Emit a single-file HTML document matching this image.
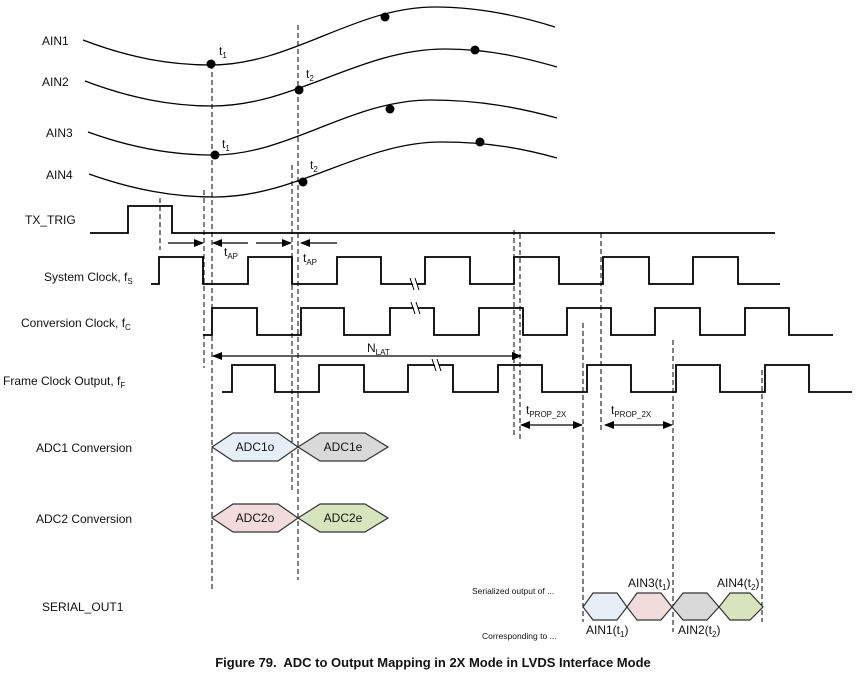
<!DOCTYPE html>
<html><head><meta charset="utf-8"><style>
html,body{margin:0;padding:0;background:#fff;}
svg{display:block;}
text{font-family:"Liberation Sans",Arial,sans-serif;fill:#111;}
</style></head><body>
<svg width="865" height="680" viewBox="0 0 865 680" xmlns="http://www.w3.org/2000/svg">
<defs>
<marker id="ar" markerWidth="10" markerHeight="8" refX="9" refY="4" orient="auto" markerUnits="userSpaceOnUse">
<path d="M0,0 L10,4 L0,8 z" fill="#000"/></marker>
</defs>
<g fill="none" stroke="#000" stroke-width="1.3">
<path d="M83,40 C130,58 170,65 211,65 C292,65 354,7 435,7 C480,7 520,16 555,27"/>
<path d="M85,81 C130,98 170,106 212,106 C295,106 360,49 445,49 C490,49 525,58 557,67"/>
<path d="M88,132 C132,148 172,155 213,155 C290,155 350,100 431,100 C480,100 520,108 557,118"/>
<path d="M89,174 C134,190 174,197 215,197 C297,197 362,142 441,142 C490,142 525,149 557,158"/>
</g>
<g fill="#000">
<circle cx="211" cy="64" r="4.5"/><circle cx="385" cy="17" r="4.5"/>
<circle cx="299" cy="90" r="4.5"/><circle cx="475" cy="50" r="4.5"/>
<circle cx="215" cy="155" r="4.5"/><circle cx="390" cy="109" r="4.5"/>
<circle cx="303" cy="182" r="4.5"/><circle cx="480" cy="142" r="4.5"/>
</g>
<g font-size="12">
<text x="42" y="45">AIN1</text><text x="42" y="86">AIN2</text>
<text x="46" y="137">AIN3</text><text x="46" y="179">AIN4</text>
<text x="25" y="224">TX_TRIG</text>
<text x="44" y="281">System Clock, f<tspan font-size="8" dy="3">S</tspan></text>
<text x="21" y="327">Conversion Clock, f<tspan font-size="8" dy="3">C</tspan></text>
<text x="3" y="385">Frame Clock Output, f<tspan font-size="8" dy="3">F</tspan></text>
<text x="36" y="452">ADC1 Conversion</text>
<text x="36" y="523">ADC2 Conversion</text>
<text x="42" y="611">SERIAL_OUT1</text>
<text x="219" y="55">t<tspan font-size="8" dy="3">1</tspan></text>
<text x="306" y="78">t<tspan font-size="8" dy="3">2</tspan></text>
<text x="222" y="148">t<tspan font-size="8" dy="3">1</tspan></text>
<text x="310" y="169">t<tspan font-size="8" dy="3">2</tspan></text>
<text x="224" y="256">t<tspan font-size="8" dy="3">AP</tspan></text>
<text x="303" y="262">t<tspan font-size="8" dy="3">AP</tspan></text>
<text x="367" y="352">N<tspan font-size="8" dy="3">LAT</tspan></text>
<text x="526" y="414">t<tspan font-size="8" dy="3">PROP_2X</tspan></text>
<text x="611" y="414">t<tspan font-size="8" dy="3">PROP_2X</tspan></text>
<text x="628" y="587">AIN3(t<tspan font-size="8" dy="3">1</tspan><tspan dy="-3">)</tspan></text>
<text x="717" y="587">AIN4(t<tspan font-size="8" dy="3">2</tspan><tspan dy="-3">)</tspan></text>
<text x="586" y="634">AIN1(t<tspan font-size="8" dy="3">1</tspan><tspan dy="-3">)</tspan></text>
<text x="678" y="634">AIN2(t<tspan font-size="8" dy="3">2</tspan><tspan dy="-3">)</tspan></text>
</g>
<text x="472" y="594" font-size="8.5">Serialized output of ...</text>
<text x="482" y="639" font-size="8.5">Corresponding to ...</text>
<!-- dashed -->
<g stroke="#000" stroke-width="1" stroke-dasharray="5,3" fill="none">
<line x1="212" y1="64" x2="212" y2="590"/>
<line x1="298" y1="25" x2="298" y2="580"/>
<line x1="160" y1="198" x2="160" y2="250"/>
<line x1="204" y1="190" x2="204" y2="368"/>
<line x1="292" y1="165" x2="292" y2="492"/>
<line x1="514" y1="230" x2="514" y2="437"/>
<line x1="520" y1="234" x2="520" y2="441"/>
<line x1="601" y1="233" x2="601" y2="433"/>
<line x1="583" y1="323" x2="583" y2="622"/>
<line x1="673" y1="340" x2="673" y2="632"/>
<line x1="762" y1="370" x2="762" y2="622"/>
</g>
<!-- waveforms -->
<g fill="none" stroke="#000" stroke-width="1.8">
<path d="M90,233 H128 V206 H172 V233 H775"/>
<path d="M151,284 H159 V257 H203 V284 H248 V257 H292 V284 H337 V257 H381 V284 H425 V257 H470 V284 H514 V257 H559 V284 H603 V257 H649 V284 H693 V257 H738 V284 H780"/>
<path d="M203,335 H212 V308 H257 V335 H301 V308 H344 V335 H390 V308 H434 V335 H479 V308 H523 V335 H567 V308 H611 V335 H655 V308 H700 V335 H745 V308 H789 V335 H833"/>
<path d="M222,392 H232 V365 H275 V392 H319 V365 H364 V392 H408 V365 H453 V392 H498 V365 H542 V392 H587 V365 H631 V392 H676 V365 H720 V392 H765 V365 H809 V392 H852"/>
</g>
<g stroke="#fff" stroke-width="4"><line x1="412" y1="278" x2="418" y2="290"/><line x1="413" y1="302" x2="419" y2="314"/><line x1="434" y1="359" x2="440" y2="371"/></g>
<g stroke="#000" stroke-width="1"><line x1="410" y1="278" x2="414" y2="290"/><line x1="415" y1="278" x2="419" y2="290"/>
<line x1="411" y1="302" x2="415" y2="314"/><line x1="416" y1="302" x2="420" y2="314"/>
<line x1="432" y1="359" x2="436" y2="371"/><line x1="437" y1="359" x2="441" y2="371"/></g>
<!-- arrows -->
<g stroke="#000" stroke-width="1.2">
<line x1="168" y1="243" x2="203" y2="243" marker-end="url(#ar)"/>
<line x1="248" y1="243" x2="213" y2="243" marker-end="url(#ar)"/>
<line x1="256" y1="243" x2="291" y2="243" marker-end="url(#ar)"/>
<line x1="337" y1="243" x2="301" y2="243" marker-end="url(#ar)"/>
<line x1="367" y1="356" x2="213" y2="356" marker-end="url(#ar)"/>
<line x1="367" y1="356" x2="521" y2="356" marker-end="url(#ar)"/>
<line x1="550" y1="425" x2="521" y2="425" marker-end="url(#ar)"/>
<line x1="550" y1="425" x2="582" y2="425" marker-end="url(#ar)"/>
<line x1="636" y1="425" x2="605" y2="425" marker-end="url(#ar)"/>
<line x1="636" y1="425" x2="672" y2="425" marker-end="url(#ar)"/>
</g>
<!-- hexes -->
<g stroke="#333" stroke-width="1.2">
<polygon points="212,447 233,433 278,433 298,447 278,461 233,461" fill="#e6eef8"/>
<polygon points="298,447 320,433 365,433 388,447 365,461 320,461" fill="#d9d9d9"/>
<polygon points="212,518 233,504 278,504 298,518 278,532 233,532" fill="#f2dcdb"/>
<polygon points="298,518 320,504 365,504 388,518 365,532 320,532" fill="#d7e4bd"/>
<polygon points="583,607 593,593 617,593 627,607 617,620 593,620" fill="#e6eef8"/>
<polygon points="627,607 637,593 661,593 672,607 661,620 637,620" fill="#f2dcdb"/>
<polygon points="672,607 683,593 707,593 719,607 707,620 683,620" fill="#d9d9d9"/>
<polygon points="719,607 730,593 750,593 763,607 750,620 730,620" fill="#d7e4bd"/>
</g>
<g font-size="12" text-anchor="middle">
<text x="255" y="451">ADC1o</text><text x="343" y="451">ADC1e</text>
<text x="255" y="522">ADC2o</text><text x="343" y="522">ADC2e</text>
</g>
<text x="433" y="667" font-size="13" font-weight="bold" text-anchor="middle" xml:space="preserve">Figure 79.  ADC to Output Mapping in 2X Mode in LVDS Interface Mode</text>
</svg>
</body></html>
